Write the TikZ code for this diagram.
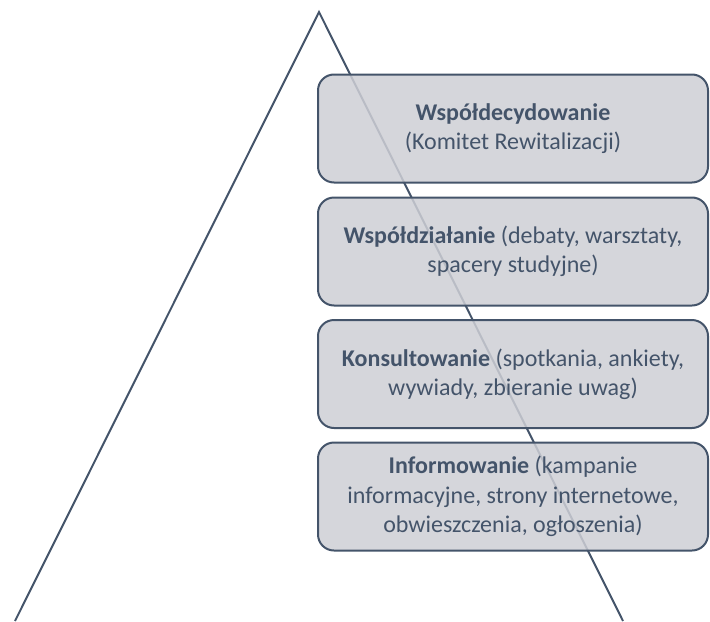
\documentclass[tikz,border=0pt]{standalone}
\usepackage{fontspec}
\setmainfont{Carlito}
\usepackage{tikz}
\usetikzlibrary{positioning}
\definecolor{slate}{HTML}{44546A}
\definecolor{boxgray}{RGB}{206,207,213}

\begin{document}
\begin{tikzpicture}[x=0.75pt,y=-0.75pt]
	\useasboundingbox (0,0) rectangle (710,621);
	\tikzstyle{every node} = [draw = slate, line width = 1.5pt, fill = boxgray, fill opacity = 0.85, text opacity = 1, rounded corners = 12pt, minimum width = 292.5pt, minimum height = 81pt, align = center, text = slate, font = \fontsize{18}{22}\selectfont]
\coordinate (top) at (319, 12);
\coordinate (left) at (15, 621);
\coordinate (right) at (623, 621);

	\path[draw, slate, line width = 1.5pt] (left) -- (top) -- (right);

\node (b1) at (513, 128.5) {\textbf{Współdecydowanie}\\(Komitet Rewitalizacji)};
\node (b2) at (513, 251.5) {\textbf{Współdziałanie} (debaty, warsztaty,\\spacery studyjne)};
\node (b3) at (513, 374) {\textbf{Konsultowanie} (spotkania, ankiety,\\wywiady, zbieranie uwag)};
\node (b4) at (513, 496.5) {\textbf{Informowanie} (kampanie\\informacyjne, strony internetowe,\\obwieszczenia, ogłoszenia)};
	\end{tikzpicture}
\end{document}
